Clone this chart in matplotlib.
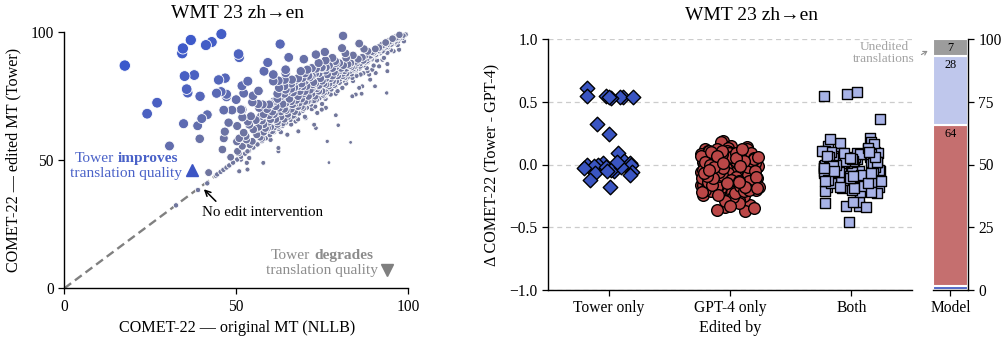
import numpy as np
import matplotlib
matplotlib.use("Agg")
import matplotlib.pyplot as plt
import seaborn as sns
from matplotlib.colors import LinearSegmentedColormap, Normalize
from matplotlib.offsetbox import TextArea, HPacker, VPacker, AnnotationBbox

plt.rcParams['font.family'] = ['Liberation Serif', 'DejaVu Serif']
plt.rcParams['axes.unicode_minus'] = True

# ---------------- data: left panel (COMET-22 scores) ----------------
nllb_scores = [
    17.6, 24.1, 27.0, 30.6, 34.5, 34.3, 36.8, 41.2, 42.9, 45.7, 35.0, 37.8, 35.6, 35.9, 39.5,
    34.7, 38.8, 40.0, 41.6, 39.4, 44.9, 46.8, 44.3, 45.6, 47.2, 47.2, 50.7, 50.9, 50.0, 51.7,
    53.4, 52.2, 54.9, 56.5, 46.4, 48.8, 51.8, 54.7, 56.4, 47.8, 50.3, 53.4, 55.7, 46.7, 52.2,
    46.4, 46.0, 50.2, 50.9, 48.4, 50.7, 53.1, 50.9, 53.3, 57.9, 42.0, 44.1, 41.6, 38.9, 32.5,
    62.8, 65.3, 69.7, 73.2, 75.8, 59.2, 81.1, 80.8, 81.8, 85.8, 87.2, 88.3, 89.9, 91.4, 92.6,
    94.3, 95.0, 96.1, 97.1, 98.4, 99.3, 94.0, 95.8, 97.4, 98.8, 92.6, 94.0,
    58.1, 60.8, 64.4, 64.4, 68.8, 70.7, 73.2, 74.9, 76.1, 78.8, 79.0, 81.2, 83.3, 84.8, 86.7,
    88.7, 90.6, 60.8, 62.3, 64.1, 66.2, 67.6, 69.3, 71.4, 62.5, 64.4, 66.9, 69.3, 72.2, 74.1,
    76.1, 78.0, 79.9, 57.7, 59.6, 61.5, 64.4, 66.4, 68.3, 70.7, 73.2, 75.6, 77.5, 79.5, 80.9,
    51.4, 56.7, 51.8, 54.3, 57.2, 59.6, 53.8, 56.2, 59.1, 62.0, 64.4, 67.3, 70.2, 73.6, 76.1,
    74.9, 72.7, 73.2, 68.1, 64.9, 79.0, 79.7, 76.5, 83.3, 77.0, 52.8, 54.7, 51.8, 50.4, 53.3,
    51.4, 53.8, 62.3, 62.3, 89.0, 90.4, 86.7, 85.8, 83.8, 84.8, 86.5, 93.8, 88.7, 90.6, 94.0,
    81.9, 83.8, 86.2, 88.2, 89.6, 91.6,
    44.5, 45.5, 46.3, 47.2, 48.0, 49.1, 50.3, 51.4, 52.6, 53.7, 55.0, 56.2, 57.5, 58.6, 59.8,
    61.0, 62.3, 63.5, 64.6, 65.8, 67.1, 68.3, 69.4, 70.6, 71.8, 73.0, 74.2, 75.3, 76.5, 77.7,
    78.9, 80.1, 81.2, 82.4, 83.6, 84.8, 85.9, 87.1, 88.3, 89.4, 90.6, 91.8, 92.9, 94.1, 95.3,
    96.4, 97.6, 98.7,
    55.0, 56.0, 58.0, 58.0, 60.0, 60.0, 61.0, 62.0, 63.0, 63.0, 64.0, 65.0, 66.0, 66.0, 67.0,
    68.0, 68.0, 69.0, 70.0, 70.0, 71.0, 72.0, 72.0, 73.0, 74.0, 74.0, 75.0, 76.0, 76.0, 77.0,
    78.0, 78.0, 79.0, 80.0, 80.0, 81.0, 82.0, 83.0, 83.0, 84.0, 85.0, 86.0, 87.0, 88.0, 89.0,
    90.0, 91.0, 92.0, 93.0, 94.0, 95.0, 96.0, 97.0, 57.0, 59.0, 61.0, 62.0, 64.0, 65.0, 67.0,
    69.0, 71.0, 73.0, 75.0, 77.0, 79.0, 81.0, 82.0, 84.0, 86.0, 88.0, 53.0, 54.0, 56.0, 59.0,
    62.0, 64.0, 66.0, 68.0, 70.0, 72.0, 74.0, 76.0, 78.0, 80.0,
    60.0, 63.0, 66.0, 70.0, 73.0, 76.0, 79.0, 82.0, 85.0, 88.0, 91.0, 94.0, 97.0, 68.0, 72.0,
    75.0, 84.0, 87.0, 90.0, 93.0, 95.0,
    56.5, 57.5, 58.5, 59.5, 60.5, 61.5, 62.5, 63.5, 64.5, 65.5, 66.5, 67.5, 68.5, 69.5, 70.5,
    71.5, 72.5, 73.5, 74.5, 75.5, 76.5, 77.5, 78.5, 79.5, 80.5, 81.5, 82.5, 83.5, 84.5, 85.5,
    86.5, 87.5, 88.5, 89.5, 90.5, 91.5, 92.5, 93.5, 94.5, 95.5, 96.5, 97.5,
    60.0, 62.0, 64.0, 66.0, 68.0, 70.0, 72.0, 74.0, 76.0, 78.0, 58.0, 61.0, 63.0, 65.0, 67.0,
    69.0, 71.0, 73.0, 75.0, 77.0, 79.0, 82.0, 84.0,
    66.5, 69.5, 72.5, 75.5, 78.5, 81.5, 84.5, 87.5, 90.5, 93.5, 63.5, 60.5, 57.5,
]
tower_scores = [
    87.0, 68.2, 72.5, 55.6, 93.7, 91.8, 97.0, 95.0, 96.2, 99.3, 82.9, 83.3, 77.8, 76.4, 75.0,
    64.3, 63.5, 66.3, 67.8, 58.4, 81.4, 82.1, 76.2, 76.8, 75.8, 74.8, 91.5, 90.2, 73.7, 79.1,
    80.9, 76.2, 75.2, 77.1, 69.6, 69.6, 69.8, 72.7, 72.0, 64.7, 63.4, 65.1, 65.7, 61.2, 60.8,
    58.6, 54.2, 57.3, 58.6, 51.2, 52.9, 49.0, 45.7, 46.4, 49.0, 45.2, 44.0, 41.0, 38.4, 32.4,
    95.4, 90.2, 89.5, 91.3, 92.3, 88.2, 98.6, 93.8, 91.8, 95.6, 93.5, 92.6, 92.2, 92.8, 92.6,
    94.1, 95.5, 95.7, 96.5, 97.8, 99.1, 91.9, 92.6, 93.2, 96.5, 89.3, 87.6,
    84.8, 83.5, 85.4, 84.1, 84.8, 85.4, 85.8, 86.3, 86.3, 88.7, 86.7, 87.1, 88.0, 88.7, 90.2,
    90.6, 91.3, 80.9, 81.1, 81.5, 81.5, 81.5, 82.2, 82.4, 78.3, 77.6, 78.5, 78.9, 79.6, 79.3,
    79.6, 80.2, 80.6, 71.8, 71.8, 71.1, 72.4, 71.8, 72.4, 73.1, 73.7, 75.0, 75.7, 77.0, 78.3,
    69.8, 70.5, 66.8, 67.2, 67.2, 67.6, 63.9, 62.6, 62.6, 63.3, 64.6, 65.2, 66.5, 68.5, 70.5,
    69.8, 63.9, 62.6, 61.3, 60.0, 67.6, 63.7, 57.4, 57.0, 49.1, 59.4, 57.4, 55.5, 53.5, 53.5,
    50.3, 50.9, 54.8, 53.5, 81.5, 78.9, 78.9, 78.3, 75.0, 75.7, 76.0, 76.3, 83.5, 84.1, 84.8,
    81.5, 82.2, 83.5, 84.8, 85.4, 86.7,
    44.5, 45.5, 46.3, 47.2, 48.0, 49.1, 50.3, 51.4, 52.6, 53.7, 55.0, 56.2, 57.5, 58.6, 59.8,
    61.0, 62.3, 63.5, 64.6, 65.8, 67.1, 68.3, 69.4, 70.6, 71.8, 73.0, 74.2, 75.3, 76.5, 77.7,
    78.9, 80.1, 81.2, 82.4, 83.6, 84.8, 85.9, 87.1, 88.3, 89.4, 90.6, 91.8, 92.9, 94.1, 95.3,
    96.4, 97.6, 98.7,
    62.0, 60.0, 64.0, 61.0, 66.0, 63.0, 68.0, 65.0, 69.0, 67.0, 70.0, 68.0, 73.0, 70.0, 72.0,
    75.0, 71.0, 74.0, 77.0, 73.0, 75.0, 78.0, 76.0, 80.0, 77.0, 79.0, 81.0, 78.0, 82.0, 80.0,
    83.0, 81.0, 84.0, 82.0, 85.0, 84.0, 86.0, 85.0, 87.0, 86.0, 88.0, 88.0, 89.0, 90.0, 91.0,
    92.0, 93.0, 94.0, 95.0, 95.5, 96.5, 97.5, 98.0, 59.0, 62.0, 63.0, 64.0, 66.0, 67.0, 69.0,
    71.0, 73.0, 75.0, 77.0, 79.0, 81.0, 83.0, 84.0, 85.5, 87.0, 89.0, 58.0, 56.0, 66.0, 70.0,
    74.0, 76.0, 78.0, 79.0, 81.0, 83.0, 84.0, 85.0, 86.0, 88.0,
    58.0, 61.0, 64.0, 67.0, 71.0, 74.0, 76.0, 80.0, 83.0, 86.0, 89.0, 92.0, 95.0, 66.0, 70.0,
    72.0, 81.0, 84.0, 87.0, 90.0, 93.0,
    63.0, 65.5, 62.5, 65.0, 69.0, 66.0, 70.5, 72.0, 69.5, 74.0, 76.5, 73.5, 77.0, 76.0, 79.0,
    77.5, 80.5, 78.0, 82.0, 80.0, 83.5, 82.0, 84.5, 83.0, 86.0, 85.0, 87.5, 86.5, 87.0, 89.5,
    88.5, 91.0, 89.5, 92.5, 93.5, 94.0, 95.0, 96.0, 96.5, 97.5, 98.0, 99.0,
    72.0, 76.0, 79.0, 80.0, 82.0, 84.0, 86.0, 88.0, 89.0, 90.0, 68.0, 73.0, 75.0, 77.0, 81.0,
    80.0, 83.0, 84.0, 86.0, 87.0, 88.0, 90.0, 91.0,
    67.5, 70.5, 73.5, 76.5, 79.5, 82.5, 85.5, 88.5, 91.5, 94.5, 64.5, 61.5, 58.5,
]

# ---------------- data: right panel (delta COMET-22) ----------------
categories = ["Tower only", "GPT-4 only", "Both"]
delta_tower_only = [
    0.61, 0.54, 0.55, 0.54, 0.54, 0.53, 0.54, 0.55, 0.32, 0.24, 0.09, 0.03, 0.01, 0.00, 0.00,
    0.01, -0.01, -0.02, 0.00, -0.03, -0.05, -0.06, -0.07, -0.04, -0.08, -0.12, -0.18, -0.02,
    0.02, -0.05,
]
delta_gpt4_only = [
    0.05, -0.12, 0.19, -0.03, -0.20, 0.08, -0.07, 0.11, -0.15, 0.00, -0.09, 0.18, -0.22, 0.03,
    -0.05, 0.10, -0.13, -0.01, 0.07, -0.18, -0.27, 0.04, -0.10, 0.12, -0.06, -0.16, 0.02, -0.30,
    0.15, -0.08, -0.02, 0.09, -0.14, -0.04, 0.06, -0.21, -0.11, 0.01, -0.32, 0.13, -0.07, -0.19,
    0.05, -0.03, -0.25, 0.10, -0.12, 0.08, -0.05, -0.17, 0.00, -0.34, 0.11, -0.09, 0.04, -0.23,
    -0.01, 0.07, -0.14, -0.06, 0.14, -0.20, 0.02, -0.10, -0.36, 0.09, -0.04, -0.16, 0.06, -0.28,
    0.12, -0.08, -0.02, -0.13, 0.03, -0.18, 0.10, -0.37, -0.06, 0.05, -0.11, 0.00, -0.22, 0.08,
    -0.15, -0.03, 0.11, -0.09, -0.31, 0.01, -0.19, 0.07, -0.05, -0.12, 0.04, -0.24, -0.07, 0.12,
    -0.01, -0.17, 0.06, -0.10, -0.35, 0.02, -0.14, 0.09, -0.04, -0.21, 0.03, -0.08, -0.26, 0.10,
    -0.12, 0.05, -0.02, -0.16, 0.08, -0.06, -0.20, 0.00, -0.11, 0.06, -0.15, -0.03, 0.11, -0.09,
    -0.23, 0.04, -0.18, -0.05, 0.07, -0.13, 0.01, -0.07, -0.19, 0.09, -0.10, 0.03, -0.22, -0.01,
    0.12, -0.14, 0.05, -0.04, -0.17, 0.02, -0.08, -0.29, 0.10, -0.12, 0.06, -0.06, -0.21, 0.00,
    -0.16, 0.08, -0.03, -0.11, 0.04, -0.20, -0.09, 0.11, -0.02, -0.15, 0.07, -0.33, -0.05, 0.01,
    -0.13, 0.09, -0.18, -0.07, 0.03, -0.10, 0.05, -0.24, -0.01, 0.12, -0.14, -0.04, 0.06, -0.19,
]
delta_both = [
    0.56, 0.58, 0.55, 0.36, 0.21, -0.05, 0.08, -0.12, 0.17, -0.02, 0.04, -0.18, 0.10, -0.08,
    0.00, 0.15, -0.14, 0.06, -0.33, -0.04, 0.12, -0.10, 0.02, -0.20, 0.09, -0.06, -0.30, 0.05,
    -0.15, 0.01, -0.09, 0.18, -0.01, -0.22, 0.07, -0.11, 0.03, -0.46, -0.07, 0.11, -0.16, 0.00,
    -0.03, -0.34, 0.06, -0.13, 0.09, -0.19, -0.05, 0.04, -0.31, -0.09, 0.02, -0.12, 0.16, -0.02,
    -0.17, 0.08, -0.07, -0.21, 0.05, -0.04, -0.33, 0.10, -0.14, 0.01, -0.10, 0.13, -0.06, -0.18,
    0.03, -0.01, -0.23, 0.07, -0.11, -0.30, 0.04, -0.08, 0.20, -0.15, 0.00, -0.05, 0.09, -0.12,
    -0.20, 0.06, -0.03, -0.16, 0.02, -0.09, 0.11, -0.13, -0.07, 0.05, -0.19, -0.02, 0.08, -0.10,
    0.03, -0.14, -0.04, 0.01, -0.17, 0.07, -0.06, -0.11, 0.04, -0.22, 0.00, -0.08, 0.09, -0.15,
    -0.01, 0.05, -0.12, -0.05, 0.02, -0.18, 0.06, -0.09, -0.03, 0.10, -0.13, -0.07,
]

# ---------------- data: share of edits (percent) ----------------
bar_groups = ["Tower only", "GPT-4 only", "Both", "Unedited"]
bar_shares = [1.4, 64.4, 27.6, 6.6]

# ---------------- styling ----------------
C_TOWER = "#3a55c2"
C_GPT = "#bb4747"
C_BOTH = "#a8b3e7"
BAR_COLORS = ["#4e65c6", "#c56f6f", "#bfc7ec", "#9c9c9c"]
C_IMPROVE = "#4a62c8"
C_DEGRADE = "#8c8c8c"

W, H = 1003, 337
fig = plt.figure(figsize=(W / 100, H / 100), dpi=100)

def fx(px):
    return px / W

def fy(py):
    return 1 - py / H

TICK_FS = 11.2
LABEL_FS = 11.6
TITLE_FS = 14

# ---------------- left panel ----------------
axL = fig.add_axes([fx(64.3), fy(288.3), fx(408) - fx(64.3), fy(32.3) - fy(288.3)])
x = np.array(nllb_scores)
y = np.array(tower_scores)
d = y - x
sizes = np.where(d > 0.3, 22 + 45 * (np.clip(d, 0, 65) / 65) ** 0.5,
                 np.clip(15 + 0.3 * d, 7, 15))
cmap = LinearSegmentedColormap.from_list("imp", ["#72779b", "#6a72a6", "#4d62c0", "#3a58cc"])
norm = Normalize(vmin=-5, vmax=65)
order = np.argsort(d)
axL.plot([0, 100], [0, 100], color="#808080", lw=1.7, ls=(0, (3.6, 2.0)), zorder=1)
axL.scatter(x[order], y[order], s=sizes[order], c=d[order], cmap=cmap, norm=norm,
            edgecolors="white", linewidths=0.6, zorder=2, clip_on=False)
axL.set_xlim(0, 100)
axL.set_ylim(0, 100)
axL.set_xticks([0, 50, 100])
axL.set_yticks([0, 50, 100])
for s in ["top", "right"]:
    axL.spines[s].set_visible(False)
for s in ["left", "bottom"]:
    axL.spines[s].set_linewidth(1.0)
axL.tick_params(labelsize=TICK_FS, length=4, width=0.9)

# improve annotation
tp = dict(color=C_IMPROVE, fontsize=11.1)
line1 = HPacker(children=[TextArea("Tower", textprops=tp),
                          TextArea("improves", textprops=dict(tp, fontweight="bold"))],
                pad=0, sep=2.8, align="baseline")
line2 = TextArea("translation quality", textprops=tp)
box = VPacker(children=[line1, line2], pad=0, sep=1.5, align="center")
axL.add_artist(AnnotationBbox(box, (34.3, 47.8), xycoords="data", frameon=False,
                              box_alignment=(1, 0.5), pad=0))
axL.plot([37.1], [46.3], marker="^", ms=9, color="#3c55c4", ls="none", clip_on=False)

tp2 = dict(color=C_DEGRADE, fontsize=11.1)
dl1 = HPacker(children=[TextArea("Tower", textprops=tp2),
                        TextArea("degrades", textprops=dict(tp2, fontweight="bold"))],
              pad=0, sep=2.8, align="baseline")
dl2 = TextArea("translation quality", textprops=tp2)
dbox = VPacker(children=[dl1, dl2], pad=0, sep=1.5, align="center")
axL.add_artist(AnnotationBbox(dbox, (91.2, 9.9), xycoords="data", frameon=False,
                              box_alignment=(1, 0.5), pad=0))
axL.plot([93.8], [7.2], marker="v", ms=9, color="#7f7f7f", ls="none", clip_on=False)

axL.annotate("", xy=(40.6, 38.7), xytext=(44.1, 34.0),
             arrowprops=dict(arrowstyle="->", color="black", lw=1.1, shrinkA=0, shrinkB=0))
axL.text(40.0, 29.7, "No edit intervention", fontsize=10.8, ha="left", va="center")

fig.text(fx(237.9), fy(14), "WMT 23 zh→en", fontsize=TITLE_FS, ha="center", va="center")
fig.text(fx(237), fy(328), "COMET-22 — original MT (NLLB)", fontsize=LABEL_FS,
         ha="center", va="center")
fig.text(fx(13), fy(160), "COMET-22 — edited MT (Tower)", fontsize=LABEL_FS,
         ha="center", va="center", rotation=90)

# ---------------- right panel ----------------
axR = fig.add_axes([fx(548), fy(289.7), fx(912) - fx(548), fy(39.3) - fy(289.7)])
np.random.seed(7)
sns.stripplot(x=["Tower only"] * len(delta_tower_only), y=delta_tower_only, order=categories,
              marker="D", color=C_TOWER, edgecolor="black", linewidth=1.0, size=7.4,
              jitter=0.21, ax=axR, zorder=3)
sns.stripplot(x=["GPT-4 only"] * len(delta_gpt4_only), y=delta_gpt4_only, order=categories,
              marker="o", color=C_GPT, edgecolor="black", linewidth=1.0, size=8.4,
              jitter=0.24, ax=axR, zorder=3)
sns.stripplot(x=["Both"] * len(delta_both), y=delta_both, order=categories,
              marker="s", color=C_BOTH, edgecolor="black", linewidth=1.0, size=7.6,
              jitter=0.245, ax=axR, zorder=3)
axR.set_xlim(-0.5, 2.5)
axR.set_ylim(-1, 1)
axR.set_yticks([-1.0, -0.5, 0.0, 0.5, 1.0])
axR.set_yticklabels(["−1.0", "−0.5", "0.0", "0.5", "1.0"])
axR.yaxis.grid(True, ls=(0, (4, 3)), color="#cccccc", lw=0.9)
axR.set_axisbelow(True)
axR.set_xlabel("")
axR.set_ylabel("")
for s in ["top", "right"]:
    axR.spines[s].set_visible(False)
for s in ["left", "bottom"]:
    axR.spines[s].set_linewidth(1.0)
axR.tick_params(labelsize=TICK_FS, length=4, width=0.9)

fig.text(fx(752), fy(15), "WMT 23 zh→en", fontsize=TITLE_FS, ha="center", va="center")
fig.text(fx(730), fy(328), "Edited by", fontsize=LABEL_FS, ha="center", va="center")
fig.text(fx(492), fy(165), "Δ COMET-22 (Tower - GPT-4)", fontsize=LABEL_FS,
         ha="center", va="center", rotation=90)

# ---------------- share bar ----------------
axB = fig.add_axes([fx(933), fy(289.7), fx(968) - fx(933), fy(39.3) - fy(289.7)])
bottoms = np.concatenate([[0], np.cumsum(bar_shares)[:-1]])
axB.bar([0] * len(bar_shares), bar_shares, bottom=bottoms, width=1.0, color=BAR_COLORS,
        edgecolor="white", linewidth=1.5)
for b, v in zip(bottoms, bar_shares):
    if v >= 5:
        axB.text(0, b + v - 3.6, f"{v:.0f}", ha="center", va="center", fontsize=8.8,
                 color="black")
axB.set_xlim(-0.5, 0.5)
axB.set_ylim(0, 100)
axB.set_xticks([0])
axB.set_xticklabels(["Model"])
axB.set_yticks([0, 25, 50, 75, 100])
axB.yaxis.tick_right()
for s in ["top", "left"]:
    axB.spines[s].set_visible(False)
for s in ["right", "bottom"]:
    axB.spines[s].set_linewidth(1.0)
axB.tick_params(labelsize=TICK_FS, length=4, width=0.9)

fig.text(fx(884), fy(53.5), "Unedited\ntranslations", fontsize=9.6, color="#a3a3a3",
         ha="center", va="center", multialignment="center", linespacing=1.0)
fig.add_artist(matplotlib.patches.FancyArrowPatch(
    (fx(919), fy(56)), (fx(930), fy(49.5)), transform=fig.transFigure,
    arrowstyle="->,head_length=2.5,head_width=1.5", color="#8e8e8e", lw=0.8))

fig.savefig("out.png", dpi=100)
